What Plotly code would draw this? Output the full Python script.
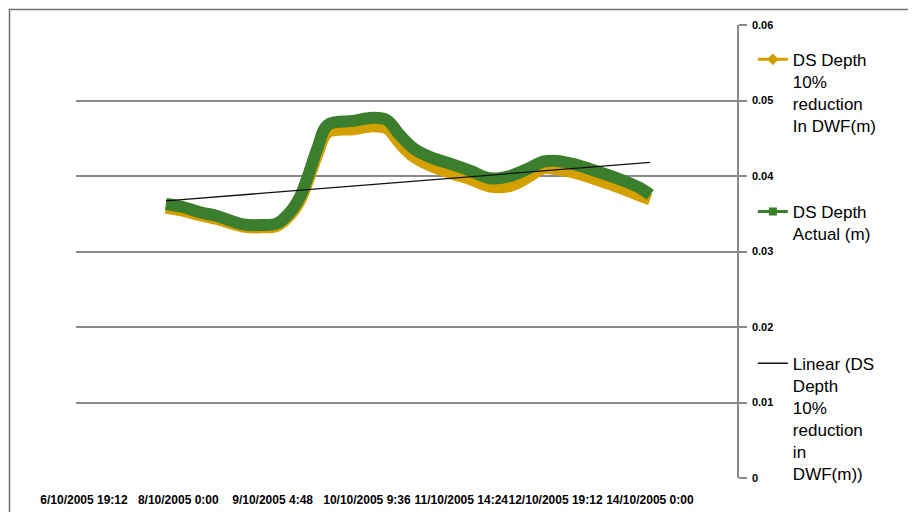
import plotly.graph_objects as go

# Time in hours after 6/10/2005 0:00
hours = [44.2, 49.4, 54.6, 59.8, 67.8, 73.0, 78.1, 82.1, 85.2, 87.6, 90.4, 93.7,
         101.4, 107.5, 111.7, 115.7, 119.7, 124.9, 131.9, 137.1, 143.2, 149.3,
         155.4, 159.4, 163.6, 168.5, 175.9, 183.8, 189.0, 192.1]

ds_depth_actual = [0.0363, 0.0359, 0.0352, 0.0347, 0.0336, 0.0335, 0.0337, 0.0352,
                   0.0373, 0.0400, 0.0436, 0.0468, 0.0473, 0.0477, 0.0474, 0.0454,
                   0.0437, 0.0425, 0.0415, 0.0407, 0.0397, 0.0400, 0.0411, 0.0419,
                   0.0420, 0.0416, 0.0406, 0.0394, 0.0384, 0.0375]

ds_depth_10pct = [0.0358, 0.0354, 0.0348, 0.0343, 0.0333, 0.0332, 0.0334, 0.0348,
                  0.0368, 0.0394, 0.0428, 0.0458, 0.0462, 0.0466, 0.0463, 0.0443,
                  0.0426, 0.0414, 0.0403, 0.0396, 0.0386, 0.0387, 0.0400, 0.0410,
                  0.0409, 0.0405, 0.0395, 0.0383, 0.0374, 0.0369]

trend_hours = [44.2, 192.1]
trend_values = [0.0367, 0.0418]

tick_hours = [19.2, 48.0, 76.8, 105.6, 134.4, 163.2, 192.0]
tick_labels = ["6/10/2005 19:12", "8/10/2005 0:00", "9/10/2005 4:48", "10/10/2005 9:36",
               "11/10/2005 14:24", "12/10/2005 19:12", "14/10/2005 0:00"]

y_ticks = [0, 0.01, 0.02, 0.03, 0.04, 0.05, 0.06]

GOLD = "#D4A000"
GREEN = "#3B7F2E"
GRID = "#8A8A8A"
FONT = "Liberation Sans, Arial, sans-serif"

fig = go.Figure()

fig.add_trace(go.Scatter(x=hours, y=ds_depth_10pct, mode="lines",
                         line=dict(color=GOLD, width=12, shape="spline"),
                         showlegend=False, hoverinfo="skip"))
fig.add_trace(go.Scatter(x=hours, y=ds_depth_actual, mode="lines",
                         line=dict(color=GREEN, width=12, shape="spline"),
                         showlegend=False, hoverinfo="skip"))
fig.add_trace(go.Scatter(x=trend_hours, y=trend_values, mode="lines",
                         line=dict(color="#111111", width=1.3),
                         showlegend=False, hoverinfo="skip"))

# legend entries
fig.add_trace(go.Scatter(x=[None], y=[None], mode="lines+markers",
                         name="DS Depth<br>10%<br>reduction<br>In DWF(m)",
                         line=dict(color=GOLD, width=3),
                         marker=dict(symbol="diamond", size=9, color=GOLD),
                         legend="legend"))
fig.add_trace(go.Scatter(x=[None], y=[None], mode="lines+markers",
                         name="DS Depth<br>Actual (m)",
                         line=dict(color=GREEN, width=3),
                         marker=dict(symbol="square", size=8, color=GREEN),
                         legend="legend2"))
fig.add_trace(go.Scatter(x=[None], y=[None], mode="lines",
                         name="Linear (DS<br>Depth<br>10%<br>reduction<br>in<br>DWF(m))",
                         line=dict(color="#111111", width=1.3),
                         legend="legend3"))

leg_common = dict(xanchor="left", yanchor="top", x=1.024, valign="top",
                  bgcolor="rgba(0,0,0,0)", borderwidth=0,
                  font=dict(family=FONT, size=17, color="#000000"))

fig.update_layout(
    width=908, height=504,
    margin=dict(l=68, r=179, t=17, b=34, autoexpand=False),
    paper_bgcolor="white", plot_bgcolor="white",
    font=dict(family=FONT, color="#000000"),
    legend=dict(y=0.963, **leg_common),
    legend2=dict(y=0.627, **leg_common),
    legend3=dict(y=0.292, **leg_common),
    xaxis=dict(range=[16.76, 218.6], tickmode="array", tickvals=tick_hours,
               ticktext=tick_labels, tickangle=0, showgrid=False, zeroline=False,
               showline=False, ticks="", ticklabelstandoff=13,
               tickfont=dict(family=FONT, size=12, weight="bold", color="#000000")),
    yaxis=dict(range=[0, 0.06], side="right", tickmode="array", tickvals=y_ticks,
               showgrid=True, gridcolor=GRID, gridwidth=1.5, zeroline=False,
               showline=True, linecolor=GRID, linewidth=1.5,
               ticks="outside", ticklen=8, tickcolor=GRID, tickwidth=1.5,
               ticklabelstandoff=3,
               tickfont=dict(family=FONT, size=11, weight="bold", color="#000000")),
    shapes=[dict(type="rect", xref="paper", yref="paper",
                 x0=-0.1006, y0=-1.0, x1=2.0, y1=1.0342,
                 line=dict(color="#707070", width=1.5), fillcolor="rgba(0,0,0,0)",
                 layer="above")],
)

fig.write_html("out.html")
